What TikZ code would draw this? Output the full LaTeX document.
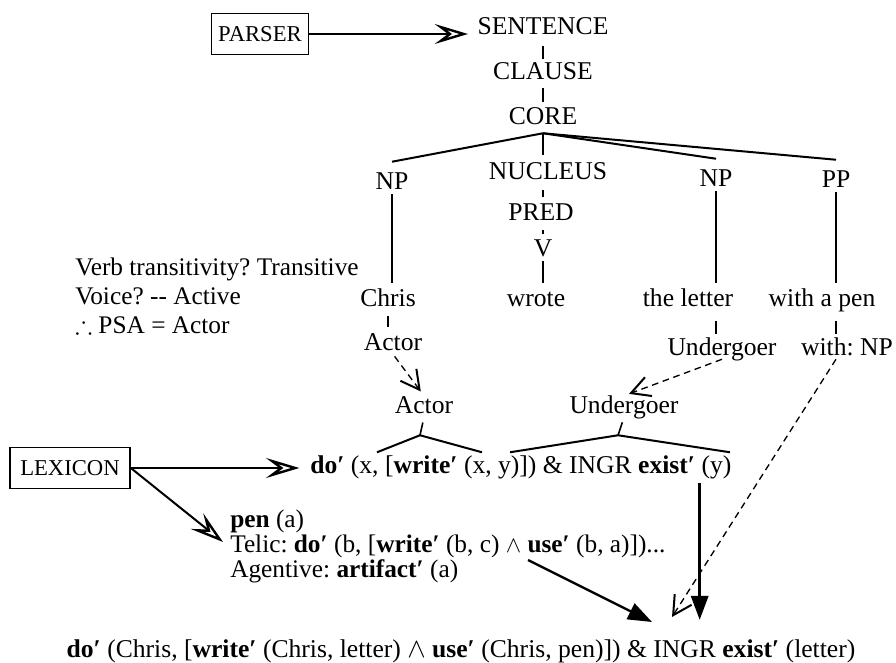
\documentclass[tikz,border=0pt]{standalone}
\usepackage{fontspec}
\setmainfont{Liberation Serif}
\usepackage{amssymb}
\usetikzlibrary{arrows.meta,calc}
\frenchspacing

\begin{document}
\begin{tikzpicture}[x=0.75pt, y=-0.75pt,
  every node/.style={inner sep=0pt, font=\fontsize{19.2pt}{22pt}\selectfont},
  lbl/.style={anchor=base, text height=12.75pt, text depth=3pt},
  box/.style={draw, line width=1.2pt, font=\fontsize{17pt}{20pt}\selectfont, minimum height=31pt},
  fan/.style={line width=1.5pt},
  vline/.style={line width=1.2pt},
  gap/.style={shorten <=4pt, shorten >=4pt},
  bigarrow/.style={line width=1.5pt, -{Stealth[open, length=25pt, width=15pt, inset=10pt, line width=1.8pt]}},
  dasharrow/.style={line width=1pt, dash pattern=on 5pt off 3.5pt,
    -{Straight Barb[length=14pt, width=15pt, line width=1.5pt]}},
  solidarrow/.style={line width=1.8pt, -{Triangle[length=18pt, width=13pt]}},
]
\useasboundingbox (0,0) rectangle (896,663);

% ---- parser and the RRG tree
\node[box, minimum width=72.75pt] (parser) at (260,34) {PARSER};
\node[lbl] (sent)   at (543,35)  {SENTENCE};
\node[lbl] (clause) at (543,80)  {CLAUSE};
\node[lbl] (core)   at (543,125) {CORE};
\node[lbl] (np1)    at (392,190) {NP};
\node[lbl] (nuc)    at (548,180) {NUCLEUS};
\node[lbl] (np2)    at (716,187) {NP};
\node[lbl] (pp)     at (836,188) {PP};
\node[lbl] (pred)   at (541,220) {PRED};
\node[lbl] (verb)   at (543,257) {V};
\node[lbl] (chris)  at (388,306) {Chris};
\node[lbl] (wrote)  at (536,306) {wrote};
\node[lbl] (letter) at (688,306) {the letter};
\node[lbl] (withpen) at (822,306) {with a pen};
\node[lbl] (actA)   at (393,350) {Actor};
\node[lbl] (undA)   at (722,355) {Undergoer};
\node[lbl] (withnp) at (847,355) {with: NP};
\node[lbl] (actB)   at (424,413) {Actor};
\node[lbl] (undB)   at (624,413) {Undergoer};

% ---- linking rules (node base = last line)
\node[anchor=base west, align=left, font=\fontsize{19pt}{21.75pt}\selectfont] (psa) at (75,333)
  {Verb transitivity? Transitive\\Voice? -{}- Active\\$\therefore$ PSA = Actor};

% ---- lexicon and logical structures
\node[box, minimum width=90pt] (lex) at (70,468) {LEXICON};
\node[anchor=base west] (ls) at (310,473)
  {\textbf{do′} (x, [\textbf{write′} (x, y)]) \& INGR \textbf{exist′} (y)};
\node[anchor=base west, align=left, font=\fontsize{19pt}{18.75pt}\selectfont] (qualia) at (230,577)
  {\textbf{pen} (a)\\Telic: \textbf{do′} (b, [\textbf{write′} (b, c) $\wedge$ \textbf{use′} (b, a)])...\\Agentive: \textbf{artifact′} (a)};
\node[anchor=base, font=\fontsize{19.2pt}{22pt}\selectfont] (result) at (461,657)
  {\textbf{do′} (Chris, [\textbf{write′} (Chris, letter) $\wedge$ \textbf{use′} (Chris, pen)]) \& INGR \textbf{exist′} (letter)};

% ---- helper points
\coordinate (apex) at ($(core.south)+(0,4)$);
\coordinate (forkA) at ($(actB.south)+(-4,18)$);
\coordinate (forkA1) at ($(forkA)+(-43,17)$);
\coordinate (forkA2) at ($(forkA)+(62,17)$);
\coordinate (forkU) at ($(undB.south)+(-6,18)$);
\coordinate (forkU1) at ($(forkU)+(-108,17)$);
\coordinate (forkU2) at ($(forkU)+(112,17)$);
\coordinate (qualtip) at (223,542);
\coordinate (telicout) at (528,560);
\coordinate (lsout) at ($(ls.south east)+(-32,4)$);
\coordinate (tipA) at (652,622);
\coordinate (tipB) at (672,617);
\coordinate (tipC) at ($(lsout)+(0,137)$);

% ---- tree lines
\draw[vline, shorten <=5pt, shorten >=3pt] (sent.south) -- (clause.north);
\draw[vline, shorten <=3pt, shorten >=4pt] (clause.south) -- (core.north);
\draw[fan] (apex) -- ($(np1.north)+(0,-11)$);
\draw[fan] (apex) -- ($(np2.north)+(0,-11)$);
\draw[fan] (apex) -- ($(pp.north)+(0,-11)$);
\draw[vline, shorten >=6pt] (apex) -- (apex |- nuc.north);
\draw[vline, gap] (apex |- nuc.south) -- (apex |- pred.north);
\draw[vline, gap] (apex |- pred.south) -- (apex |- verb.north);
\draw[vline, shorten >=4pt] (apex |- verb.south) -- (apex |- wrote.north);
\draw[vline, shorten >=4pt] (np1.south) -- (np1.south |- chris.north);
\draw[vline, shorten >=4pt] (np2.south) -- (np2.south |- letter.north);
\draw[vline, shorten >=4pt] (pp.south) -- (pp.south |- withpen.north);
\draw[vline, gap] (chris.south) -- (chris.south |- actA.north);
\draw[vline, shorten <=8pt, shorten >=3pt] (np2.south |- letter.south) -- (np2.south |- undA.north);
\draw[vline, shorten <=8pt, shorten >=3pt] (pp.south |- withpen.south) -- (pp.south |- withnp.north);

% ---- argument linking
\draw[dasharrow, shorten <=2pt, shorten >=4pt] (actA.south) -- (actB.north);
\draw[dasharrow, shorten >=4pt] (undA.south) -- (undB.north);
\draw[dasharrow] (pp.south |- withnp.south) -- (tipB);

% ---- forks above the logical structure
\draw[vline, shorten <=4pt] (actB.south) -- (forkA);
\draw[fan] (forkA1) -- (forkA) -- (forkA2);
\draw[vline, shorten <=4pt] (undB.south) -- (forkU);
\draw[fan] (forkU1) -- (forkU) -- (forkU2);

% ---- input arrows
\draw[bigarrow, shorten >=7pt] (parser.east) -- (parser.east -| sent.west);
\draw[bigarrow, shorten >=8pt] (lex.east) -- (lex.east -| ls.west);
\draw[bigarrow] (lex.east) -- (qualtip);

% ---- arrows into the final semantic representation
\draw[solidarrow] (telicout) -- (tipA);
\draw[solidarrow] (lsout) -- (tipC);
\end{tikzpicture}
\end{document}
